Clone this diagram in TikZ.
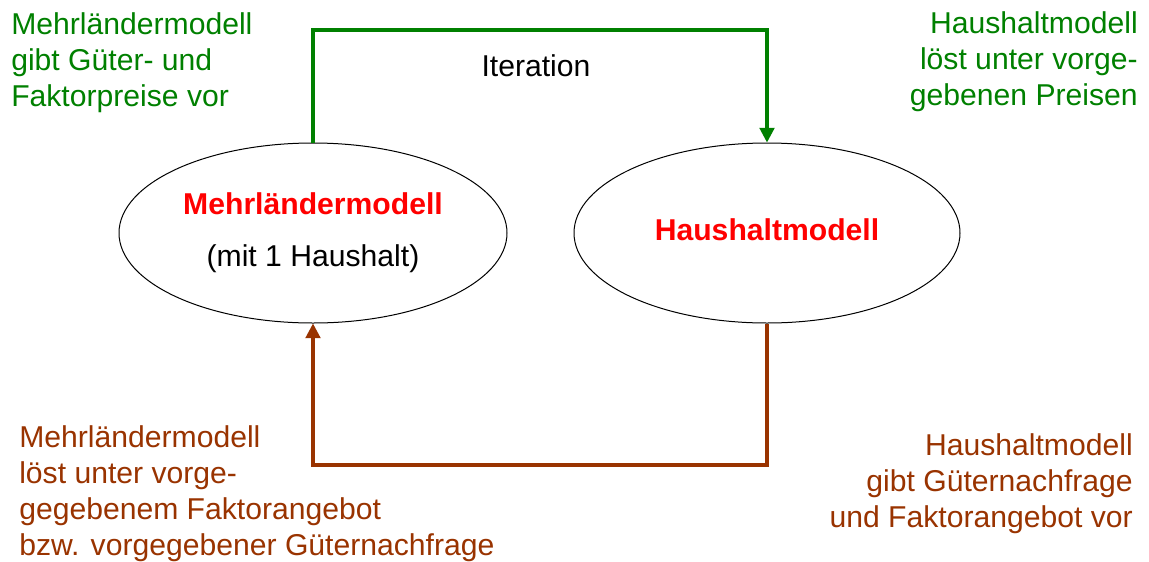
\documentclass[tikz,border=0pt]{standalone}
\usepackage{fontspec}
\setmainfont{Liberation Sans}
\usetikzlibrary{shapes.geometric,arrows.meta}

\definecolor{pgreen}{RGB}{0,128,0}
\definecolor{pbrown}{RGB}{153,51,0}
\definecolor{pred}{RGB}{255,0,0}

\tikzset{
  txt/.style={inner sep=0pt, font=\fontsize{22.6}{27}\selectfont},
  model/.style={ellipse, draw=black, line width=0.75pt, inner sep=0pt,
    minimum height=135pt, align=center, font=\fontsize{22.6}{27}\selectfont},
  flow/.style={line width=2.3pt, -{Triangle[width=11pt,length=11pt]}}
}

\begin{document}
\begin{tikzpicture}[x=0.75pt, y=-0.75pt]
          \useasboundingbox (0,0) rectangle (1149,561);

          \node[model, minimum width=291pt] (mlm) at (313,233)
            {\textcolor{pred}{\textbf{Mehrländermodell}}\\[12pt](mit 1 Haushalt)};
          \node[model, minimum width=289.5pt] (hhm) at (767,233)
            {\raisebox{5pt}{\textcolor{pred}{\textbf{Haushaltmodell}}}};

          \node[txt] (iter) at (536,66) {Iteration};

          \node[txt, text=pgreen, align=left, anchor=north west] (tl) at (11,12)
            {Mehrländermodell\\gibt Güter- und\\Faktorpreise vor};
          \node[txt, text=pgreen, align=right, anchor=north east] (tr) at (1138,11)
            {Haushaltmodell\\löst unter vorge-\\gebenen Preisen};
          \node[txt, text=pbrown, align=left, anchor=north west] (bl) at (19,425)
            {Mehrländermodell\\löst unter vorge-\\gegebenem Faktorangebot\\bzw. vorgegebener Güternachfrage};
          \node[txt, text=pbrown, align=right, anchor=north east] (br) at (1133,433)
            {Haushaltmodell\\gibt Güternachfrage\\und Faktorangebot vor};

          \coordinate (up) at (540,30);
          \coordinate (down) at (540,465);

          \draw[flow, draw=pgreen] (mlm.north) |- (up) -| (hhm.north);
          \draw[flow, draw=pbrown] (hhm.south) |- (down) -| (mlm.south);
        \end{tikzpicture}
\end{document}
